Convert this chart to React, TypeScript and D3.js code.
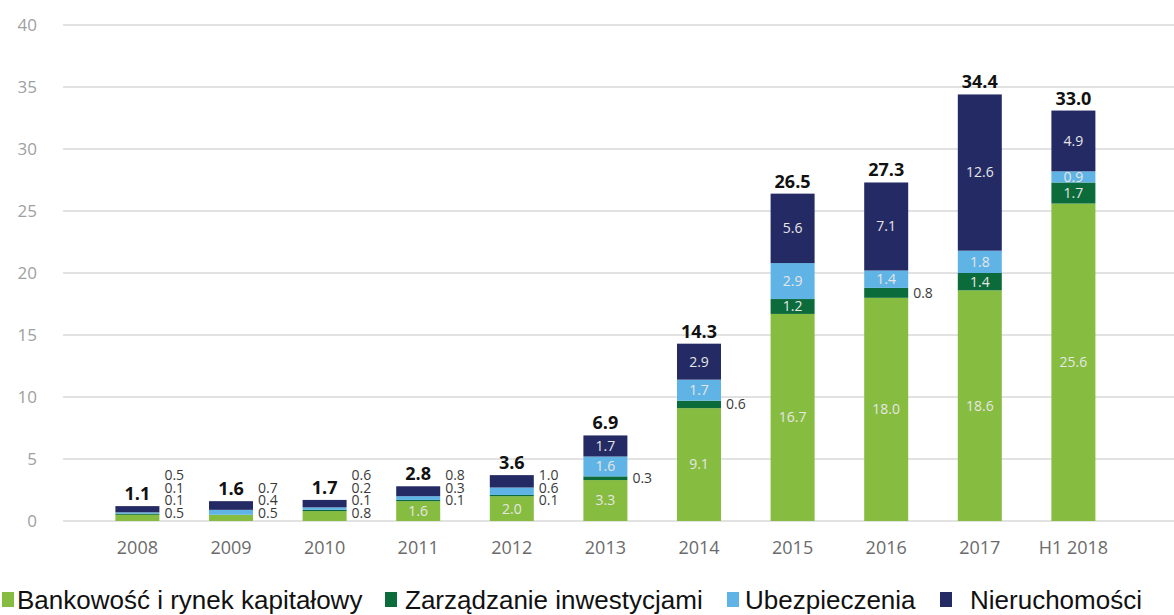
import React from "react";
import * as d3 from "d3";

const categories = ["2008", "2009", "2010", "2011", "2012", "2013", "2014", "2015", "2016", "2017", "H1 2018"];
const bankowosc = [0.5, 0.5, 0.8, 1.6, 2.0, 3.3, 9.1, 16.7, 18.0, 18.6, 25.6];
const zarzadzanie = [0.1, 0, 0.1, 0.1, 0.1, 0.3, 0.6, 1.2, 0.8, 1.4, 1.7];
const ubezpieczenia = [0.1, 0.4, 0.2, 0.3, 0.6, 1.6, 1.7, 2.9, 1.4, 1.8, 0.9];
const nieruchomosci = [0.5, 0.7, 0.6, 0.8, 1.0, 1.7, 2.9, 5.6, 7.1, 12.6, 4.9];
const totals = ["1.1", "1.6", "1.7", "2.8", "3.6", "6.9", "14.3", "26.5", "27.3", "34.4", "33.0"];
const yTicks = [0, 5, 10, 15, 20, 25, 30, 35, 40];

const seriesNames = ["Bankowość i rynek kapitałowy", "Zarządzanie inwestycjami", "Ubezpieczenia", "Nieruchomości"];
const seriesValues = [bankowosc, zarzadzanie, ubezpieczenia, nieruchomosci];
const colors = ["#86bc3f", "#0b6b3a", "#5fb4e5", "#242a63"];

export default function App() {
  const W = 1174;
  const H = 615;
  const x = d3.scaleBand<string>().domain(categories).range([90.6, 1120.2]).paddingInner(0.53).paddingOuter(0.265);
  const y = d3.scaleLinear().domain([0, 40]).range([521, 25]);
  const bw = x.bandwidth();

  const table = categories.map((c, i) => {
    const obj: any = { cat: c };
    seriesNames.forEach((s, k) => (obj[s] = seriesValues[k][i]));
    return obj;
  });
  const stack = d3.stack<any>().keys(seriesNames)(table);

  const legendX = [
    { sq: 2, tx: 17 },
    { sq: 385, tx: 405 },
    { sq: 727, tx: 745 },
    { sq: 940, tx: 970 },
  ];

  const outsideLabels: any[] = [];
  const insideLabels: any[] = [];
  categories.forEach((c, i) => {
    const sum = seriesValues.reduce((a, s) => a + s[i], 0);
    const small = sum < 5;
    let rank = 0;
    let firstIdx = -1;
    seriesValues.forEach((s, k) => {
      const v = s[i];
      if (v <= 0) return;
      const seg = stack[k][i];
      const mid = (y(seg[0]) + y(seg[1])) / 2;
      const inside = small ? (k === 0 && v >= 1.5) : v >= 0.85;
      if (inside) {
        insideLabels.push({ key: c + k, x: (x(c) as number) + bw / 2, y: mid, t: v.toFixed(1) });
      } else {
        let ly = mid;
        if (small) {
          if (firstIdx < 0) firstIdx = k;
          ly = y(0) - 8 - 12.7 * (firstIdx + rank);
          rank++;
        }
        outsideLabels.push({ key: c + k, x: (x(c) as number) + bw + 5, y: ly, t: v.toFixed(1) });
      }
    });
  });

  return (
    <svg width={W} height={H} style={{ position: "absolute", left: 0, top: 0, background: "#fff" }} fontFamily="'Open Sans', sans-serif">
      {yTicks.map((t) => (
        <g key={t}>
          <line x1={63} x2={W} y1={y(t)} y2={y(t)} stroke="#d9d9d9" strokeWidth={1.5} />
          <text x={37} y={y(t)} dy="0.35em" textAnchor="end" fontSize={17} fill="#a0a0a0">
            {t}
          </text>
        </g>
      ))}
      {stack.map((layer, k) => (
        <g key={layer.key} fill={colors[k]}>
          {layer.map((d, i) => (
            <rect key={i} x={x(categories[i])} width={bw} y={y(d[1])} height={Math.max(0, y(d[0]) - y(d[1]))} />
          ))}
        </g>
      ))}
      {categories.map((c) => (
        <text key={"x" + c} x={(x(c) as number) + bw / 2} y={554} textAnchor="middle" fontSize={18} fill="#6b6b6b">
          {c}
        </text>
      ))}
      {categories.map((c, i) => {
        const top = stack[3][i][1];
        return (
          <text key={"t" + c} x={(x(c) as number) + bw / 2} y={y(top) - 6} textAnchor="middle" fontSize={18} fontWeight="bold" fill="#111">
            {totals[i]}
          </text>
        );
      })}
      {insideLabels.map((l) => (
        <text key={"in" + l.key} x={l.x} y={l.y} dy="0.35em" textAnchor="middle" fontSize={14} fill="#e6e6e6">
          {l.t}
        </text>
      ))}
      {outsideLabels.map((l) => (
        <text key={"out" + l.key} x={l.x} y={l.y} dy="0.35em" textAnchor="start" fontSize={14} fill="#3a3a3a">
          {l.t}
        </text>
      ))}
      {seriesNames.map((s, k) => (
        <g key={"lg" + k}>
          <rect x={legendX[k].sq} y={592} width={12} height={15} fill={colors[k]} />
          <text x={legendX[k].tx} y={609} fontSize={26} fill="#111" fontFamily="'Liberation Sans', Arial, sans-serif">
            {s}
          </text>
        </g>
      ))}
    </svg>
  );
}
